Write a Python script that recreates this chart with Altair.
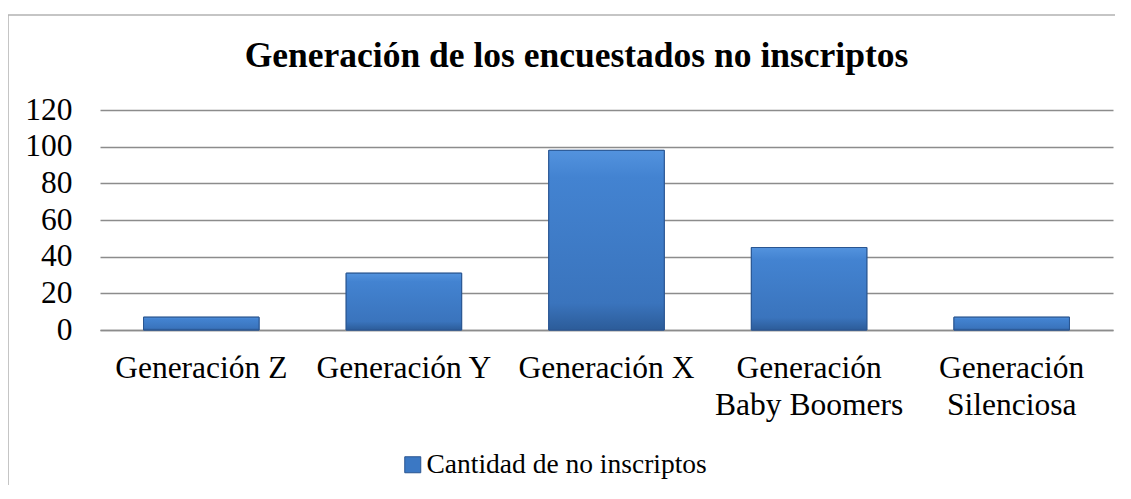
import altair as alt
import pandas as pd

# ---- data ----
categories = ["Generación Z", "Generación Y", "Generación X",
              "Generación Baby Boomers", "Generación Silenciosa"]
values = [7, 31, 98, 45, 7]
series_name = "Cantidad de no inscriptos"
y_ticks = [0, 20, 40, 60, 80, 100, 120]
title_text = "Generación de los encuestados no inscriptos"

df = pd.DataFrame({
    "generacion": categories,
    "cantidad": values,
    "serie": [series_name] * len(categories),
})

FONT = "Liberation Serif"
W, H = 1013, 220
GRID = "#8c8c8c"

label_expr = ("length(datum.label) > 12 ? ['Generación', substring(datum.label, 11)] "
              ": datum.label")

x_enc = alt.X(
    "generacion:N", sort=categories, title=None,
    scale=alt.Scale(paddingInner=0.43, paddingOuter=0.215),
    axis=alt.Axis(labelAngle=0, labelFontSize=31.5, labelFont=FONT, labelColor="black",
                  labelPadding=22, labelLineHeight=37, labelBaseline="top",
                  labelLimit=0, labelOverlap=False,
                  ticks=False, domain=True, domainColor=GRID, domainWidth=1.5,
                  labelExpr=label_expr),
)
y_enc = alt.Y(
    "cantidad:Q", title=None,
    scale=alt.Scale(domain=[0, 120], nice=False),
    axis=alt.Axis(values=y_ticks, tickCount=7, grid=True, gridColor=GRID, gridWidth=1.5,
                  domain=False, ticks=False, labelPadding=28, labelFontSize=31.5,
                  labelOverlap=False, labelFont=FONT, labelColor="black"),
)

gradient = alt.LinearGradient(
    gradient="linear", x1=0, x2=0, y1=0, y2=1,
    stops=[alt.GradientStop(offset=0, color="#5393de"),
           alt.GradientStop(offset=0.15, color="#4383d1"),
           alt.GradientStop(offset=0.85, color="#3a74bd"),
           alt.GradientStop(offset=1, color="#2c5c99")],
)

base = alt.Chart(df)

bars_legend = base.mark_bar(stroke="#2a5590", strokeWidth=1).encode(
    x=x_enc, y=y_enc,
    color=alt.Color("serie:N", scale=alt.Scale(range=["#3b78c4"]),
                    legend=alt.Legend(title=None, orient="none", legendX=299, legendY=341,
                                      symbolType="square", symbolSize=256,
                                      symbolStrokeColor="#2a5590", symbolStrokeWidth=1,
                                      labelFontSize=27.5, labelFont=FONT, labelColor="black",
                                      labelLimit=0, labelOffset=0, padding=0)),
)

bars_grad = base.mark_bar(color=gradient, stroke="#2a5590", strokeWidth=1).encode(
    x=x_enc, y=y_enc,
)

frame = alt.Chart(pd.DataFrame({"a": [0]})).mark_rect(
    fill=None, stroke="#b3b3b3", strokeWidth=1.5
).encode(
    x=alt.value(-92), x2=alt.value(1060), y=alt.value(-95), y2=alt.value(420)
)

chart = alt.layer(frame, bars_legend, bars_grad).properties(
    width=W, height=H,
    title=alt.Title(title_text, font=FONT, fontSize=35.5, fontWeight="bold", color="black",
                    anchor="middle", frame="group", dx=-30, offset=-60),
    padding={"left": 92, "top": 102, "right": 2, "bottom": 155},
    autosize=alt.AutoSizeParams(type="none"),
).configure_view(stroke=None).configure_legend(labelFont=FONT, labelFontSize=27.5, labelLimit=0)

chart.save("out.html", embed_options={"renderer": "svg", "actions": False})
